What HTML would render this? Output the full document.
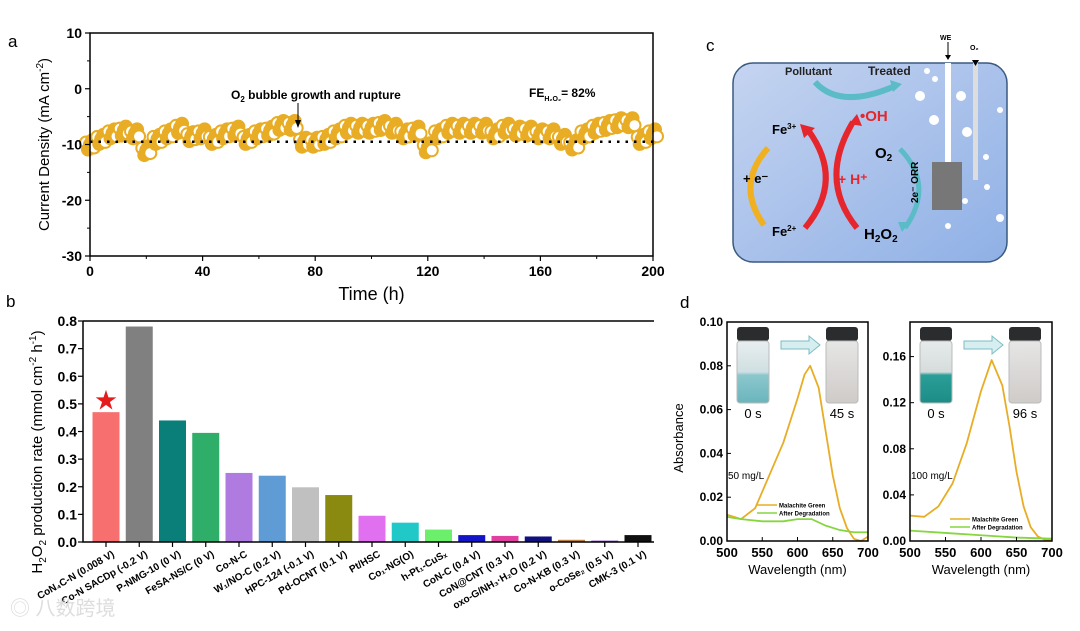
<!DOCTYPE html>
<html><head><meta charset="utf-8"><style>
body{margin:0;background:#fff;overflow:hidden;}
svg{display:block;font-family:"Liberation Sans","Noto Sans CJK SC",sans-serif;}
</style></head><body>
<svg id="fig" width="1080" height="631" viewBox="0 0 1080 631" xmlns="http://www.w3.org/2000/svg">
<defs>
<linearGradient id="cellg" x1="0" y1="0" x2="1" y2="1"><stop offset="0" stop-color="#c5d4f0"/><stop offset="1" stop-color="#8fb0e6"/></linearGradient>
<linearGradient id="vialA" x1="0" y1="0" x2="0" y2="1"><stop offset="0" stop-color="#e8eef0"/><stop offset="0.5" stop-color="#d0dfe2"/><stop offset="0.55" stop-color="#8cc7cc"/><stop offset="1" stop-color="#6ab5bd"/></linearGradient>
<linearGradient id="vialB" x1="0" y1="0" x2="0" y2="1"><stop offset="0" stop-color="#e6e6e6"/><stop offset="1" stop-color="#cfcbc8"/></linearGradient>
<linearGradient id="vialC" x1="0" y1="0" x2="0" y2="1"><stop offset="0" stop-color="#e6eaea"/><stop offset="0.5" stop-color="#d6dcdc"/><stop offset="0.55" stop-color="#2a9e98"/><stop offset="1" stop-color="#1d8c86"/></linearGradient>
</defs>
<g id="panelA"></g>
<g id="panelB"></g>
<g id="panelC">
<text x="706" y="51" font-size="17">c</text>
<rect x="733" y="63" width="274" height="199" rx="20" fill="url(#cellg)" stroke="#3a5a80" stroke-width="1.5"/>
<text x="785" y="75" font-size="11" font-weight="bold" fill="#222">Pollutant</text>
<text x="868" y="75" font-size="12" font-weight="bold" fill="#222">Treated</text>
<path d="M815 82 Q840 110 895 86" fill="none" stroke="#5bbcc7" stroke-width="6"/>
<path d="M890 80 L902 84 L893 92 Z" fill="#5bbcc7"/>
<path d="M768 148 Q735 185 764 225" fill="none" stroke="#f0b020" stroke-width="6"/>
<text x="743" y="183" font-size="13" font-weight="bold">+ e⁻</text>
<text x="772" y="134" font-size="13" font-weight="bold">Fe<tspan font-size="8" dy="-5">3+</tspan></text>
<text x="772" y="236" font-size="13" font-weight="bold">Fe<tspan font-size="8" dy="-5">2+</tspan></text>
<path d="M805 228 Q845 180 808 130" fill="none" stroke="#e5262c" stroke-width="6"/>
<path d="M800 124 L815 128 L804 138 Z" fill="#e5262c"/>
<path d="M857 228 Q818 180 853 122" fill="none" stroke="#e5262c" stroke-width="6"/>
<path d="M857 114 L862 126 L849 124 Z" fill="#e5262c"/>
<text x="838" y="184" font-size="14" font-weight="bold" fill="#e5262c">+ H⁺</text>
<text x="860" y="121" font-size="15" font-weight="bold" fill="#e5262c">•OH</text>
<text x="875" y="158" font-size="15" font-weight="bold">O<tspan font-size="10" dy="3">2</tspan></text>
<text x="864" y="239" font-size="15" font-weight="bold">H<tspan font-size="10" dy="3">2</tspan><tspan dy="-3">O</tspan><tspan font-size="10" dy="3">2</tspan></text>
<path d="M900 149 Q935 185 905 228" fill="none" stroke="#5bbcc7" stroke-width="5"/>
<path d="M898 222 L910 222 L902 232 Z" fill="#5bbcc7"/>
<text x="0" y="0" font-size="10" font-weight="bold" transform="translate(918,203) rotate(-90)">2e⁻ ORR</text>
<rect x="945" y="63" width="6" height="100" fill="#fff"/>
<rect x="932" y="162" width="30" height="48" fill="#777"/>
<rect x="973" y="62" width="5" height="118" fill="#ddd"/>
<text x="940" y="40" font-size="7" font-weight="bold">WE</text>
<line x1="948" y1="42" x2="948" y2="58" stroke="#000"/><path d="M945 55 L951 55 L948 60Z"/>
<text x="970" y="50" font-size="7" font-weight="bold">O₂</text>
<path d="M972 60 L979 60 L975.5 66Z"/>
<g fill="#fff">
<circle cx="927" cy="71" r="3"/><circle cx="935" cy="79" r="3"/><circle cx="920" cy="96" r="5"/><circle cx="961" cy="96" r="5"/><circle cx="1000" cy="110" r="3"/><circle cx="934" cy="120" r="5"/><circle cx="967" cy="132" r="5"/><circle cx="986" cy="157" r="3"/><circle cx="987" cy="187" r="3"/><circle cx="965" cy="201" r="3"/><circle cx="1000" cy="218" r="4"/><circle cx="948" cy="226" r="3"/>
</g>
</g>
<g id="panelD"></g>
<text x="10" y="615" font-size="20" fill="#ddd">◎ 八数跨境</text>
</svg>
<script>
const NS='http://www.w3.org/2000/svg';
function mk(p,t,a,txt){const e=document.createElementNS(NS,t);for(const k in a)e.setAttribute(k,a[k]);if(txt!==undefined)e.textContent=txt;p.appendChild(e);return e;}

// ---------- Panel a data ----------
const aTimes=[0,4,8,12,16,20,24,28,32,36,40,44,48,52,56,60,64,68,72,76,80,84,88,92,96,100,104,108,112,116,120,124,128,132,136,140,144,148,152,156,160,164,168,172,176,180,184,188,192,196,200];
const aCurrent=[-10,-9,-8,-7.5,-8,-11,-9,-8,-7,-8.5,-8,-9,-8,-7.5,-9,-8,-7.5,-6.5,-6.5,-9.5,-9.5,-9,-8,-7,-7,-7,-6.5,-7,-8,-7.5,-10.5,-8,-7,-7,-7,-7,-8,-7,-7.5,-7.5,-8,-8,-9,-10,-8,-7,-6.5,-6,-6,-9,-8];
const aXTicks=[0,40,80,120,160,200];
const aYTicks=[10,0,-10,-20,-30];
const aRef=[-9.5];

// ---------- Panel b data ----------
const bCats=["CoN₄C-N (0.008 V)","Co-N SACDp (-0.2 V)","P-NMG-10 (0 V)","FeSA-NS/C (0 V)","Co-N-C","W₁/NO-C (0.2 V)","HPC-124 (-0.1 V)","Pd-OCNT (0.1 V)","Pt/HSC","Co₁-NG(O)","h-Pt₁-CuSₓ","CoN-C (0.4 V)","CoN@CNT (0.3 V)","oxo-G/NH₃·H₂O (0.2 V)","Co-N-KB (0.3 V)","o-CoSe₂ (0.5 V)","CMK-3 (0.1 V)"];
const bVals=[0.47,0.78,0.44,0.395,0.25,0.24,0.198,0.17,0.095,0.07,0.045,0.025,0.022,0.02,0.008,0.005,0.025];
const bColors=["#f86f6f","#808080","#0a7f7a","#2fae6a","#b07be0","#5f9bd4","#c0c0c0","#8a8a10","#e070f0","#20c8c8","#6cf06c","#1414c8","#e040a0","#101080","#c08040","#8040c0","#101010"];
const bYTicks=[0,0.1,0.2,0.3,0.4,0.5,0.6,0.7,0.8];

// ---------- Panel d data ----------
const dWl1=[500,520,540,560,580,600,610,618,630,640,650,660,670,680,690,700];
const dMG1=[0.012,0.010,0.015,0.030,0.045,0.065,0.076,0.080,0.070,0.050,0.030,0.015,0.006,0.001,0.000,0.002];
const dWlA1=[500,520,550,580,600,620,640,660,680,700];
const dAfter1=[0.011,0.010,0.009,0.009,0.010,0.010,0.007,0.005,0.004,0.004];
const dWl2=[500,520,540,560,580,600,615,630,640,650,660,670,680,690,700];
const dMG2=[0.022,0.021,0.030,0.050,0.085,0.130,0.157,0.135,0.100,0.060,0.030,0.012,0.004,0.001,0.001];
const dWlA2=[500,550,600,650,700];
const dAfter2=[0.009,0.007,0.005,0.003,0.002];
const dXTicks=[500,550,600,650,700];
const dYTicks1=[0,0.02,0.04,0.06,0.08,0.10];
const dYTicks2=[0,0.04,0.08,0.12,0.16];

// ===== Panel A =====
(function(){
const g=document.getElementById('panelA');
const L=90,R=653,T=33,B=256;
const x=v=>L+(v-0)/200*(R-L), y=v=>T+(10-v)/40*(B-T);
let t=mk(g,'text',{x:8,y:47,'font-size':17});t.textContent='a';

const pts=mk(g,'g',{});
const offs=[[-4,-2,0],[-2,5,1],[0,0,1],[2,-4,1],[4,3,0]];
aTimes.forEach((tm,i)=>{
 offs.forEach(([dx,dy,f])=>{const c=mk(pts,'circle',{cx:x(tm)+dx,cy:y(aCurrent[i])+dy,r:6,fill:f?'#e8ad25':'#fff',stroke:'#e8ad25','stroke-width':2});
 });
});
aRef.forEach(v=>{const l=mk(g,'line',{x1:L,x2:R,y1:y(v),y2:y(v),stroke:'#000','stroke-width':2.5,'stroke-dasharray':'2.5,6'});
});
const fr=mk(g,'rect',{x:L,y:T,width:R-L,height:B-T,fill:'none',stroke:'#000','stroke-width':1.5});

aXTicks.forEach(v=>{mk(g,'line',{x1:x(v),x2:x(v),y1:B,y2:B+5,stroke:'#000','stroke-width':1.2});
 const tx=mk(g,'text',{x:x(v),y:B+20,'font-size':14,'font-weight':'bold','text-anchor':'middle'},v);
 });
for(let v=20;v<200;v+=40)mk(g,'line',{x1:x(v),x2:x(v),y1:B,y2:B+3,stroke:'#000'});
aYTicks.forEach(v=>{mk(g,'line',{x1:L-5,x2:L,y1:y(v),y2:y(v),stroke:'#000','stroke-width':1.2});
 const tx=mk(g,'text',{x:L-8,y:y(v)+5,'font-size':14,'font-weight':'bold','text-anchor':'end'},v);
 });
for(let v=5;v>-30;v-=10)mk(g,'line',{x1:L-3,x2:L,y1:y(v),y2:y(v),stroke:'#000'});
t=mk(g,'text',{x:0,y:0,'font-size':15,'text-anchor':'middle',transform:`translate(49,${(T+B)/2}) rotate(-90)`});
t.innerHTML='Current Density (mA cm<tspan font-size="10" dy="-6">-2</tspan><tspan dy="6">)</tspan>';

t=mk(g,'text',{x:(L+R)/2,y:B+44,'font-size':18,'text-anchor':'middle'},'Time (h)');

t=mk(g,'text',{x:231,y:99,'font-size':12,'font-weight':'bold'});
t.innerHTML='O<tspan font-size="8" dy="3">2</tspan><tspan dy="-3"> bubble growth and rupture</tspan>';

mk(g,'line',{x1:298,x2:298,y1:103,y2:124,stroke:'#000'});mk(g,'path',{d:'M295 120 L301 120 L298 128Z'});
t=mk(g,'text',{x:529,y:97,'font-size':12,'font-weight':'bold'});
t.innerHTML='FE<tspan font-size="7" dy="4">H₂O₂</tspan><tspan dy="-4">= 82%</tspan>';

})();

// ===== Panel B =====
(function(){
const g=document.getElementById('panelB');
const L=83,R=654,T=321,B=542;
const step=33.25,x0=106;
const x=i=>x0+i*step, y=v=>B-v/0.8*(B-T);
let t=mk(g,'text',{x:6,y:307,'font-size':17},'b');

bVals.forEach((v,i)=>{const r=mk(g,'rect',{x:x(i)-13.5,y:y(v),width:27,height:B-y(v),fill:bColors[i]});
 });
t=mk(g,'text',{x:x(0),y:y(bVals[0])-4,'font-size':22,fill:'#e51c1c','text-anchor':'middle'},'★');

mk(g,'path',{d:`M${L} ${T} L${L} ${B} L${R} ${B} M${L} ${T} L${R} ${T}`,fill:'none',stroke:'#000','stroke-width':1.5});
bYTicks.forEach(v=>{mk(g,'line',{x1:L-5,x2:L,y1:y(v),y2:y(v),stroke:'#000','stroke-width':1.2});
 const tx=mk(g,'text',{x:L-6,y:y(v)+5,'font-size':14,'font-weight':'bold','text-anchor':'end'},v.toFixed(1));
 });
bCats.forEach((c,i)=>{mk(g,'line',{x1:x(i),x2:x(i),y1:B,y2:B+5,stroke:'#000','stroke-width':1.2});
 const tx=mk(g,'text',{x:0,y:0,'font-size':10,'font-weight':'bold','text-anchor':'end',transform:`translate(${x(i)+9},${B+14}) rotate(-30)`},c);
 });
t=mk(g,'text',{x:0,y:0,'font-size':15,'text-anchor':'middle',transform:`translate(42,452) rotate(-90)`});
t.innerHTML='H<tspan font-size="10" dy="4">2</tspan><tspan dy="-4">O</tspan><tspan font-size="10" dy="4">2</tspan><tspan dy="-4"> production rate (mmol cm</tspan><tspan font-size="10" dy="-6">-2</tspan><tspan dy="6"> h</tspan><tspan font-size="10" dy="-6">-1</tspan><tspan dy="6">)</tspan>';

})();

// ===== Panel D =====
(function(){
const g=document.getElementById('panelD');
let t=mk(g,'text',{x:680,y:308,'font-size':17},'d');

function plot(L,R,T,B,ymax,ticks,wl,mg,wla,af,conc,t0,t1,vialFill,showTitle){
 const x=v=>L+(v-500)/200*(R-L), y=v=>B-v/ymax*(B-T);
 [[L+10,t0,vialFill],[L+99,t1,'url(#vialB)']].forEach(([vx,lab,f],k)=>{
  const vg=mk(g,'g',{});
  mk(vg,'rect',{x:vx,y:T+5,width:32,height:14,rx:3,fill:'#2a2c2e'});
  mk(vg,'rect',{x:vx,y:T+19,width:32,height:62,rx:3,fill:f,stroke:'#bbb'});
  mk(vg,'text',{x:vx+16,y:T+96,'font-size':13,'text-anchor':'middle'},lab);
 });
 mk(g,'path',{d:`M${L+54} ${T+19} L${L+82} ${T+19} L${L+82} ${T+14} L${L+93} ${T+23} L${L+82} ${T+32} L${L+82} ${T+27} L${L+54} ${T+27}Z`,fill:'#d6eef0',stroke:'#7cbcc4'});
 let p=mk(g,'polyline',{points:wl.map((w,i)=>x(w)+','+y(mg[i])).join(' '),fill:'none',stroke:'#e8ad25','stroke-width':1.8,'stroke-linejoin':'round'});
 
 p=mk(g,'polyline',{points:wla.map((w,i)=>x(w)+','+y(af[i])).join(' '),fill:'none',stroke:'#86d640','stroke-width':1.8});
 
 const fr=mk(g,'rect',{x:L,y:T,width:R-L,height:B-T,fill:'none',stroke:'#000','stroke-width':1.5});
 
 dXTicks.forEach(v=>{mk(g,'line',{x1:x(v),x2:x(v),y1:B,y2:B-4,stroke:'#000'});
  const tx=mk(g,'text',{x:x(v),y:B+16,'font-size':13,'font-weight':'bold','text-anchor':'middle'},v);
  });
 ticks.forEach(v=>{mk(g,'line',{x1:L,x2:L+4,y1:y(v),y2:y(v),stroke:'#000'});
  const tx=mk(g,'text',{x:L-4,y:y(v)+4,'font-size':12,'font-weight':'bold','text-anchor':'end'},v.toFixed(2));
  });
 t=mk(g,'text',{x:(L+R)/2,y:B+33,'font-size':13,'text-anchor':'middle'},'Wavelength (nm)');
 
 t=mk(g,'text',{x:L+1,y:B-62,'font-size':10},conc);
 
 const lx=L+(showTitle?30:40), ly=B-(showTitle?36:22);
 mk(g,'line',{x1:lx,x2:lx+20,y1:ly,y2:ly,stroke:'#e8ad25','stroke-width':1.5});
 mk(g,'line',{x1:lx,x2:lx+20,y1:ly+8,y2:ly+8,stroke:'#86d640','stroke-width':1.5});
 t=mk(g,'text',{x:lx+22,y:ly+2.5,'font-size':6,'font-weight':'bold'},'Malachite Green');
 
 t=mk(g,'text',{x:lx+22,y:ly+10.5,'font-size':6,'font-weight':'bold'},'After Degradation');
 
}
plot(727,868,322,541,0.10,dYTicks1,dWl1,dMG1,dWlA1,dAfter1,'50 mg/L','0 s','45 s','url(#vialA)',true);
plot(910,1052,322,541,0.19,dYTicks2,dWl2,dMG2,dWlA2,dAfter2,'100 mg/L','0 s','96 s','url(#vialC)',false);
t=mk(g,'text',{x:0,y:0,'font-size':13,'text-anchor':'middle',transform:'translate(683,438) rotate(-90)'},'Absorbance');

})();
</script>
</body></html>
